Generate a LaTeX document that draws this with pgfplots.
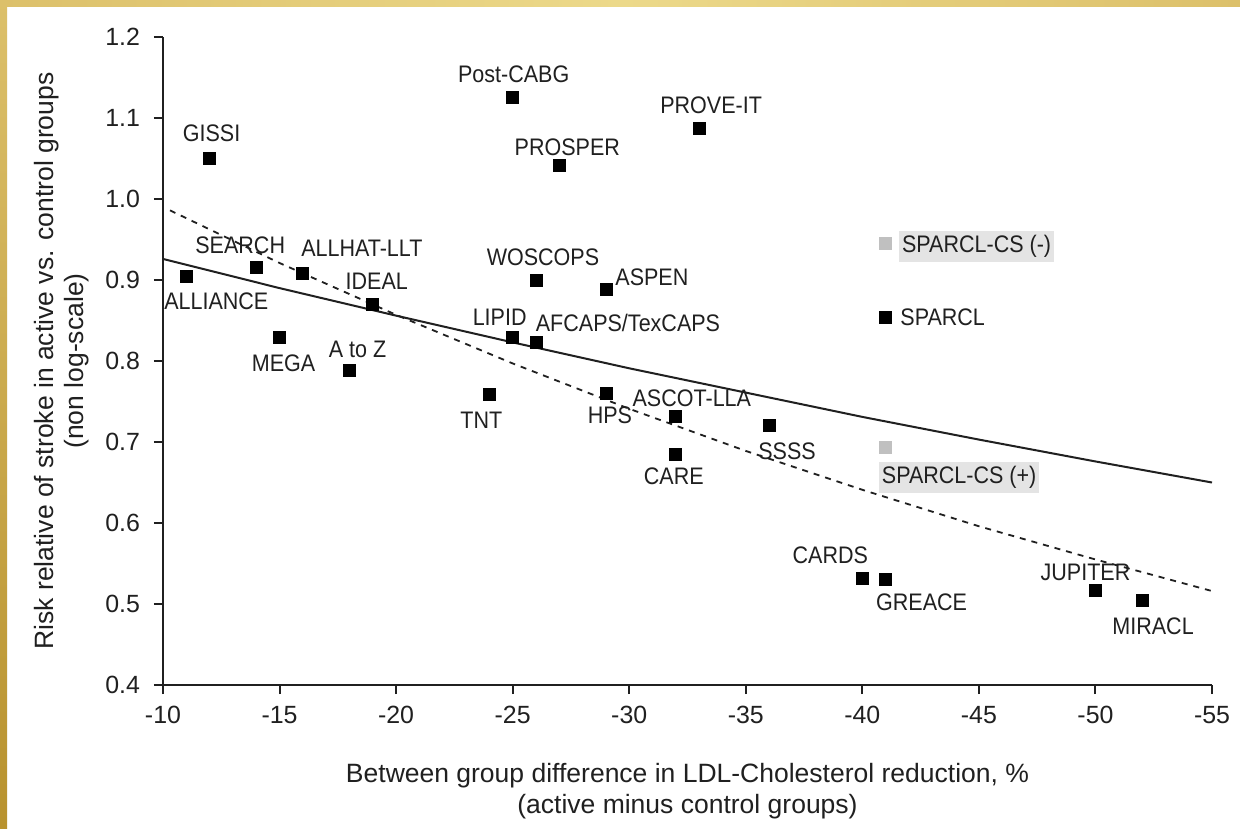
\documentclass[border=0pt]{standalone}
\usepackage{fontspec}
\setmainfont{Liberation Sans}[FakeStretch=0.9]
\newfontfamily\axfont{Liberation Sans}
\usepackage{pgfplots}
\pgfplotsset{compat=1.18}
\usepackage{pgfplotstable}
\definecolor{goldA}{HTML}{DCC06A}
\definecolor{goldB}{HTML}{B8922E}
\definecolor{goldC}{HTML}{ECD98A}
\definecolor{axcol}{HTML}{202020}
\definecolor{boxgray}{HTML}{E4E4E4}
\definecolor{mkgray}{HTML}{C0C0C0}

\pgfplotstableread{
x y
-11 0.905
-12 1.050
-14 0.915
-15 0.829
-16 0.908
-18 0.789
-19 0.870
-24 0.759
-25 1.125
-25 0.829
-26 0.900
-26 0.823
-27 1.041
-29 0.888
-29 0.760
-32 0.732
-32 0.685
-33 1.087
-36 0.720
-40 0.532
-41 0.530
-41 0.854
-50 0.517
-52 0.505
}\blackpts

\pgfplotstableread{
x y
-41 0.945
-41 0.693
}\graypts

\pgfplotstableread{
x y
-10 0.926
-15 0.890
-20 0.856
-25 0.823
-30 0.791
-35 0.761
-40 0.731
-45 0.703
-50 0.676
-55 0.650
}\solidfit

\pgfplotstableread{
x y
-10.3 0.986
-15 0.921
-20 0.857
-25 0.797
-30 0.741
-35 0.689
-40 0.641
-45 0.596
-50 0.555
-55 0.516
}\dashfit

\tikzset{lab/.style={font=\fontsize{12}{14}\selectfont, inner sep=0pt, text=axcol},
  axl/.style={font=\axfont\fontsize{13.3}{15}\selectfont, inner sep=0pt, text=axcol}}

\begin{document}
\begin{tikzpicture}[x=1bp,y=1bp]
\useasboundingbox (0,0) rectangle (620,414);
\fill[white] (0,0) rectangle (620,414);
\shade[top color=goldA, bottom color=goldB] (0,0) rectangle (3.5,414);
\shade[left color=goldA, right color=goldA, middle color=goldC] (0,410.5) rectangle (620,414);
\begin{axis}[
  at={(81.5bp,71.5bp)}, anchor=south west,
  scale only axis, width=524.5bp, height=324bp,
  xmin=-55, xmax=-10, x dir=reverse,
  ymin=0.4, ymax=1.2,
  axis x line*=bottom, axis y line*=left,
  axis line style={-, line width=1bp, color=axcol},
  tick style={line width=1bp, color=axcol},
  tick align=outside, major tick length=4.5bp,
  xtick={-55,-50,-45,-40,-35,-30,-25,-20,-15,-10},
  xticklabels={-55,-50,-45,-40,-35,-30,-25,-20,-15,-10},
  ytick={0.4,0.5,0.6,0.7,0.8,0.9,1.0,1.1,1.2},
  yticklabels={0.4,0.5,0.6,0.7,0.8,0.9,1.0,1.1,1.2},
  ticklabel style={font=\axfont\fontsize{12.5}{14}\selectfont, text=axcol},
  xticklabel style={yshift=-2.5bp},
  yticklabel style={xshift=-3.5bp},
  clip=false,
]
\addplot[axcol, line width=1bp] table {\solidfit};
\addplot[axcol, line width=0.9bp, dash pattern=on 3bp off 3bp] table {\dashfit};
\addplot[only marks, mark=square*, mark size=3bp, mark options={fill=black, draw=black}] table {\blackpts};
\addplot[only marks, mark=square*, mark size=3bp, mark options={fill=mkgray, draw=mkgray}] table {\graypts};

\node[lab, xshift=1bp, yshift=12.5bp] at (axis cs:-12,1.05) {GISSI};
\node[lab, xshift=0.5bp, yshift=11.5bp] at (axis cs:-25,1.125) {Post-CABG};
\node[lab, xshift=4bp, yshift=9.5bp] at (axis cs:-27,1.041) {PROSPER};
\node[lab, xshift=6bp, yshift=11.5bp] at (axis cs:-33,1.087) {PROVE-IT};
\node[lab, xshift=-8bp, yshift=11.5bp] at (axis cs:-14,0.915) {SEARCH};
\node[lab, xshift=15bp, yshift=-12.5bp] at (axis cs:-11,0.905) {ALLIANCE};
\node[lab, xshift=29.5bp, yshift=12.5bp] at (axis cs:-16,0.908) {ALLHAT-LLT};
\node[lab, xshift=2bp, yshift=11.5bp] at (axis cs:-19,0.870) {IDEAL};
\node[lab, xshift=2bp, yshift=-13bp] at (axis cs:-15,0.829) {MEGA};
\node[lab, xshift=4bp, yshift=10.5bp] at (axis cs:-18,0.789) {A to Z};
\node[lab, xshift=3.5bp, yshift=11.5bp] at (axis cs:-26,0.900) {WOSCOPS};
\node[lab, xshift=23bp, yshift=6bp] at (axis cs:-29,0.888) {ASPEN};
\node[lab, xshift=-6.5bp, yshift=10bp] at (axis cs:-25,0.829) {LIPID};
\node[lab, xshift=46bp, yshift=9.5bp] at (axis cs:-26,0.823) {AFCAPS/TexCAPS};
\node[lab, xshift=-4bp, yshift=-13bp] at (axis cs:-24,0.759) {TNT};
\node[lab, xshift=2bp, yshift=-11bp] at (axis cs:-29,0.760) {HPS};
\node[lab, xshift=8bp, yshift=9bp] at (axis cs:-32,0.732) {ASCOT-LLA};
\node[lab, xshift=9bp, yshift=-12.5bp] at (axis cs:-36,0.720) {SSSS};
\node[lab, xshift=-1bp, yshift=-11bp] at (axis cs:-32,0.685) {CARE};
\node[lab, xshift=36.75bp, yshift=-15bp, fill=boxgray, minimum height=15.5bp, inner xsep=1.5bp] at (axis cs:-41,0.693) {SPARCL-CS (+)};
\node[lab, xshift=45.5bp, yshift=-1.5bp, fill=boxgray, minimum height=15.5bp, inner xsep=1.5bp] at (axis cs:-41,0.945) {SPARCL-CS (-)};
\node[lab, xshift=28.5bp, yshift=0bp] at (axis cs:-41,0.854) {SPARCL};
\node[lab, xshift=-16bp, yshift=11.5bp] at (axis cs:-40,0.532) {CARDS};
\node[lab, xshift=18bp, yshift=-11.5bp] at (axis cs:-41,0.530) {GREACE};
\node[lab, xshift=-5bp, yshift=9bp] at (axis cs:-50,0.517) {JUPITER};
\node[lab, xshift=5.5bp, yshift=-13bp] at (axis cs:-52,0.505) {MIRACL};

\node[axl, yshift=-45.5bp] at (rel axis cs:0.5,0) {Between group difference in LDL-Cholesterol reduction, \%};
\node[axl, yshift=-61bp] at (rel axis cs:0.5,0) {(active minus control groups)};
\node[axl, rotate=90] at ([xshift=-58bp]rel axis cs:0,0.5) {Risk relative of stroke in active vs. control groups};
\node[axl, rotate=90] at ([xshift=-43bp]rel axis cs:0,0.5) {(non log-scale)};
\end{axis}
\end{tikzpicture}
\end{document}
